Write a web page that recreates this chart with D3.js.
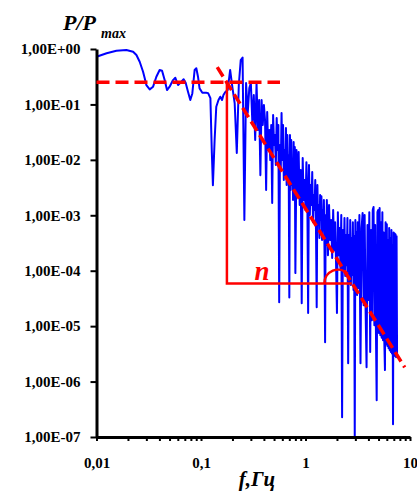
<!DOCTYPE html>
<html>
<head>
<meta charset="utf-8">
<script src="https://cdn.jsdelivr.net/npm/d3@7"></script>
<style>
  body { margin: 0; background: #fff; }
  svg { display: block; }
  text { font-family: "Liberation Serif", "Times New Roman", serif; }
</style>
</head>
<body>
<script>
// Normalised power spectrum P/Pmax versus frequency f (GHz)
const freq = [
  0.01, 0.0125, 0.0155, 0.0193, 0.0224, 0.0241, 0.0259, 0.0279, 0.0289, 0.030,
  0.0323, 0.0348, 0.0374, 0.0402, 0.0424, 0.0449, 0.0473, 0.0501, 0.054, 0.0568,
  0.0603, 0.0649, 0.0682, 0.0713, 0.0751, 0.079, 0.0826, 0.0869, 0.0902, 0.0936,
  0.0969, 0.103, 0.112, 0.117, 0.123, 0.127, 0.130, 0.135, 0.140, 0.147,
  0.153, 0.159, 0.164, 0.171,
  0.18, 0.19, 0.20, 0.21, 0.22, 0.23, 0.24, 0.25, 0.26, 0.27,
  0.28, 0.29, 0.30, 0.31, 0.32, 0.33, 0.34, 0.35, 0.36, 0.37,
  0.38, 0.39, 0.40,
  0.41, 0.42, 0.43, 0.44, 0.45, 0.46, 0.47, 0.48, 0.49, 0.50,
  0.51, 0.52, 0.53, 0.54, 0.55, 0.56, 0.57, 0.58, 0.59, 0.60,
  0.61, 0.62, 0.63, 0.64, 0.65, 0.66, 0.67, 0.68, 0.69, 0.70,
  0.71, 0.72, 0.73, 0.74, 0.75, 0.76, 0.77, 0.78, 0.79, 0.80,
  0.82, 0.84, 0.86, 0.88, 0.90, 0.92, 0.94, 0.96, 0.98, 1.00,
  1.02, 1.04, 1.06, 1.08, 1.10, 1.12, 1.14, 1.16, 1.18, 1.20,
  1.22, 1.24, 1.26, 1.28, 1.30, 1.32, 1.34, 1.36, 1.38, 1.40,
  1.42, 1.44, 1.46, 1.48, 1.50, 1.52, 1.54, 1.56, 1.58, 1.60,
  1.64, 1.68, 1.72, 1.76, 1.80, 1.84, 1.88, 1.92, 1.96, 2.00,
  2.04, 2.08, 2.12, 2.16, 2.20, 2.24, 2.28, 2.32, 2.36, 2.40,
  2.44, 2.48, 2.52, 2.56, 2.60, 2.64, 2.68, 2.72, 2.76, 2.80,
  2.84, 2.88, 2.92, 2.96, 3.00, 3.04, 3.08, 3.12, 3.16, 3.20,
  3.28, 3.36, 3.44, 3.52, 3.60, 3.68, 3.76, 3.84, 3.92, 4.00,
  4.08, 4.16, 4.24, 4.32, 4.40, 4.48, 4.56, 4.64, 4.72, 4.80,
  4.88, 4.96, 5.04, 5.12, 5.20, 5.28, 5.36, 5.44, 5.52, 5.60,
  5.68, 5.76, 5.84, 5.92, 6.00, 6.08, 6.16, 6.24, 6.32, 6.40,
  6.48, 6.56, 6.64, 6.72, 6.80, 6.88, 6.96, 7.04, 7.12, 7.20,
  7.28, 7.36, 7.44, 7.52
];
const power = [
  0.726, 0.836, 0.932, 0.959, 0.894, 0.779, 0.59, 0.389, 0.30, 0.224,
  0.187, 0.209, 0.316, 0.418, 0.406, 0.275, 0.182, 0.209, 0.275, 0.303,
  0.224, 0.257, 0.284, 0.246, 0.17, 0.12, 0.158, 0.418, 0.449, 0.316,
  0.195, 0.163, 0.163, 0.16, 0.13, 0.0133, 0.0035, 0.0228, 0.0909, 0.12,
  0.138, 0.12, 0.148, 0.168,
  0.182, 0.418, 0.198, 0.106, 0.0133, 0.224, 0.633, 0.70, 8.2e-4, 0.243,
  0.070, 0.198, 0.243, 0.0462, 0.148, 0.0228, 0.243, 0.0345, 0.12, 5.3e-3,
  0.12, 0.0425, 0.0975,
  0.0523, 2.85e-3, 0.0729, 0.0150, 0.0345, 9.9e-3, 0.0425, 1.66e-3, 0.0644, 0.0185,
  0.028, 8.05e-3, 0.0568, 0.0150, 0.0425, 2.7e-5, 0.0185, 6.55e-3, 0.070, 9.9e-3,
  0.0425, 4.32e-3, 0.015, 5.32e-3, 0.0375, 3.51e-3, 0.028, 8.05e-3, 0.0122, 3.3e-5,
  0.028, 2.85e-3, 0.0228, 3.51e-3, 9.9e-3, 1.88e-3, 0.0210, 2.32e-3, 0.0170, 9.05e-5,
  0.0150, 2.32e-3, 0.0138, 1.53e-3, 6.55e-3, 2.6e-5, 0.0108, 1.88e-3, 4.32e-3, 1.24e-3,
  9.1e-3, 2.85e-3, 1.72e-5, 8.05e-3, 1.01e-3, 3.51e-3, 1.53e-3, 6.03e-3, 7.5e-4, 2.32e-3,
  1.24e-3, 4.32e-3, 5.41e-4, 2.2e-5, 3.51e-3, 6.65e-4, 1.53e-3, 3.9e-4, 2.32e-3, 8.19e-4,
  2.2e-3, 3.57e-4, 1.24e-3, 5.87e-4, 1.88e-3, 2.35e-4, 5.1e-6, 1.01e-3, 2.90e-4, 1.88e-3,
  1.91e-4, 1.53e-3, 3.57e-4, 8.19e-4, 1.69e-4, 1.24e-3, 2.35e-4, 7.5e-4, 1.43e-4, 1.72e-5,
  1.14e-3, 1.91e-4, 5.9e-4, 1.11e-4, 1.01e-3, 2.28e-7, 5.41e-4, 1.03e-4, 8.9e-4, 8.0e-5,
  4.39e-4, 1.26e-4, 8.9e-4, 2.15e-6, 4.39e-4, 6.22e-5, 8.19e-4, 5.5e-5, 3.9e-4, 8.33e-5,
  7.5e-4, 4.47e-5, 4.2e-4, 1.0e-7, 8.19e-4, 4.1e-5, 4.9e-4, 3.63e-5, 7.5e-4, 4.9e-5,
  1.01e-3, 2.15e-6, 5.9e-4, 1.1e-3, 2.39e-5, 1.01e-3, 1.94e-5, 1.82e-6, 6.65e-4, 2.95e-5,
  1.14e-3, 3.4e-6, 5.41e-4, 1.28e-5, 1.24e-3, 1.41e-3, 1.04e-5, 6.65e-4, 8.47e-6, 4.6e-7,
  1.14e-3, 1.24e-3, 7.5e-6, 1.35e-3, 6.88e-6, 7.5e-4, 6.2e-6, 1.14e-3, 5.59e-6, 4.9e-4,
  5.1e-6, 1.61e-6, 7.5e-4, 4.7e-6, 6.9e-4, 4.4e-6, 3.57e-4, 4.0e-6, 5.9e-4, 3.69e-6,
  3.9e-4, 3.4e-6, 5.41e-4, 3.2e-6, 2.9e-4, 1.7e-7, 4.9e-4, 3.0e-6, 4.7e-4, 2.9e-6,
  4.5e-4, 2.75e-6, 4.2e-4, 2.75e-6
];

// Axis ticks and their labels
const yTicks = [1, 1e-1, 1e-2, 1e-3, 1e-4, 1e-5, 1e-6, 1e-7];
const yTickLabels = ["1,00E+00", "1,00E-01", "1,00E-02", "1,00E-03", "1,00E-04", "1,00E-05", "1,00E-06", "1,00E-07"];
const xMajorTicks = [0.01, 0.1, 1, 10];
const xTickLabels = ["0,01", "0,1", "1", "10"];

// Construction lines: flat level, power-law fit, corner and slope marker
const plateauF = [0.01, 0.57];
const plateauP = 0.25;
const fitF = [0.143, 8.9];
const fitP = [0.47, 1.8e-6];
const cornerF = 0.177;
const floorP = 5.9e-5;
const floorEndF = 2.77;
const angleCenterF = 2.05;

const width = 417, height = 492;
const svg = d3.select("body").append("svg")
  .attr("width", width).attr("height", height);

const x = d3.scaleLog().domain([0.01, 10]).range([96.5, 410]);
const y = d3.scaleLog().domain([1e-7, 1]).range([437, 49]);

// Spectrum
const data = freq.map((f, i) => [f, power[i]]);
svg.append("path")
  .datum(data)
  .attr("fill", "none")
  .attr("stroke", "#0000ff")
  .attr("stroke-width", 2)
  .attr("stroke-linejoin", "round")
  .attr("d", d3.line().x(d => x(d[0])).y(d => y(d[1])));

// Axes
const xTickValues = [];
[0.01, 0.1, 1].forEach(d => { for (let k = 1; k <= 9; k++) xTickValues.push(+(d * k).toPrecision(3)); });
xTickValues.push(10);

const xAxis = svg.append("g")
  .attr("transform", `translate(0,${y(1e-7)})`)
  .call(d3.axisBottom(x)
    .tickValues(xTickValues)
    .tickSize(4)
    .tickSizeOuter(0)
    .tickPadding(16)
    .tickFormat(d => {
      const i = xMajorTicks.findIndex(m => Math.abs(m - d) < 1e-9);
      return i >= 0 ? xTickLabels[i] : "";
    }));

const yAxis = svg.append("g")
  .attr("transform", `translate(${x(0.01)},0)`)
  .call(d3.axisLeft(y)
    .tickValues(yTicks)
    .tickSize(6)
    .tickSizeOuter(0)
    .tickPadding(10)
    .tickFormat((d, i) => yTickLabels[i]));

[xAxis, yAxis].forEach(g => {
  g.select(".domain").attr("stroke", "#000").attr("stroke-width", 3);
  g.selectAll(".tick line").attr("stroke", "#000").attr("stroke-width", 2);
  g.selectAll(".tick text")
    .attr("fill", "#000")
    .style("font-family", "'Liberation Serif', 'Times New Roman', serif")
    .style("font-size", "15px")
    .style("font-weight", "bold");
});

// Red construction lines
const red = "#ff0000";
svg.append("line")
  .attr("x1", x(plateauF[0])).attr("x2", x(plateauF[1]))
  .attr("y1", y(plateauP)).attr("y2", y(plateauP))
  .attr("stroke", red).attr("stroke-width", 3.5)
  .attr("stroke-dasharray", "13,6");

svg.append("line")
  .attr("x1", x(fitF[0])).attr("y1", y(fitP[0]))
  .attr("x2", x(fitF[1])).attr("y2", y(fitP[1]))
  .attr("stroke", red).attr("stroke-width", 3.5)
  .attr("stroke-dasharray", "11,5");

svg.append("path")
  .attr("fill", "none")
  .attr("stroke", red)
  .attr("stroke-width", 2.5)
  .attr("d", d3.line()([
    [x(cornerF), y(plateauP)],
    [x(cornerF), y(floorP)],
    [x(floorEndF), y(floorP)]
  ]));

svg.append("path")
  .attr("transform", `translate(${x(angleCenterF)},${y(floorP)})`)
  .attr("fill", red)
  .attr("d", d3.arc()
    .innerRadius(12.5).outerRadius(15)
    .startAngle(-Math.PI / 2).endAngle(Math.PI / 4)());

// Labels
svg.append("text")
  .attr("x", 262).attr("y", 280)
  .attr("text-anchor", "middle")
  .attr("fill", red)
  .style("font-size", "27px").style("font-weight", "bold").style("font-style", "italic")
  .text("n");

svg.append("text")
  .attr("x", 63).attr("y", 30)
  .style("font-size", "22px").style("font-weight", "bold").style("font-style", "italic")
  .text("P/P");
svg.append("text")
  .attr("x", 101).attr("y", 38)
  .style("font-size", "14px").style("font-weight", "bold").style("font-style", "italic")
  .text("max");

svg.append("text")
  .attr("x", 257).attr("y", 486)
  .attr("text-anchor", "middle")
  .style("font-size", "21px").style("font-weight", "bold").style("font-style", "italic")
  .text("f,Гц");
</script>
</body>
</html>
